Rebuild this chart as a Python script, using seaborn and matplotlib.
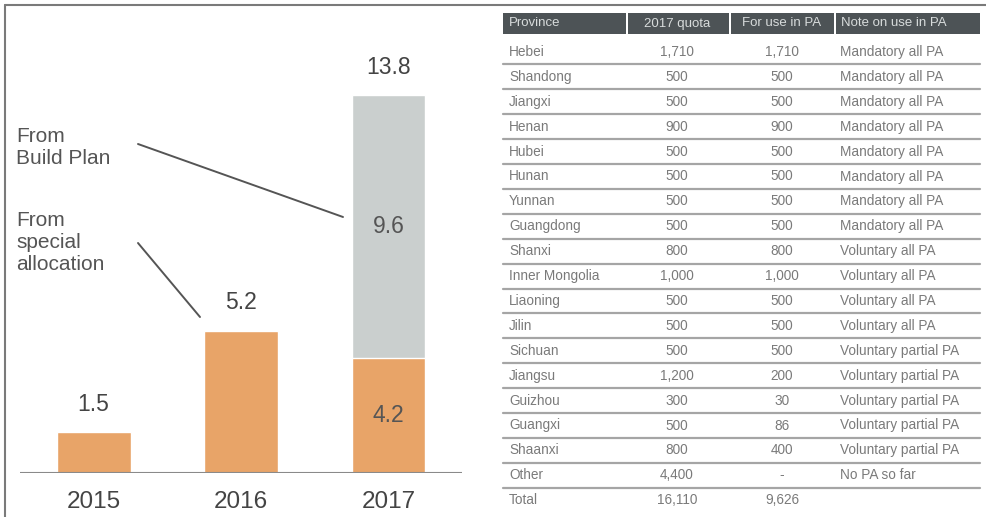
import matplotlib.pyplot as plt
import pandas as pd
import seaborn as sns

years = ["2015", "2016", "2017"]
special_allocation = [1.5, 5.2, 4.2]
build_plan = [0.0, 0.0, 9.6]

provinces = ["Hebei", "Shandong", "Jiangxi", "Henan", "Hubei", "Hunan", "Yunnan",
             "Guangdong", "Shanxi", "Inner Mongolia", "Liaoning", "Jilin", "Sichuan",
             "Jiangsu", "Guizhou", "Guangxi", "Shaanxi", "Other", "Total"]
quota_2017 = ["1,710", "500", "500", "900", "500", "500", "500", "500", "800", "1,000",
              "500", "500", "500", "1,200", "300", "500", "800", "4,400", "16,110"]
for_use_pa = ["1,710", "500", "500", "900", "500", "500", "500", "500", "800", "1,000",
              "500", "500", "500", "200", "30", "86", "400", "-", "9,626"]
pa_notes = ["Mandatory all PA"] * 8 + ["Voluntary all PA"] * 4 + \
           ["Voluntary partial PA"] * 5 + ["No PA so far", ""]
table_headers = ["Province", "2017 quota", "For use in PA", "Note on use in PA"]

ORANGE = "#E8A468"
GREY_BAR = "#CACFCE"
TEXT = "#444444"
FONT = "Liberation Sans"

sns.set_theme(style="white")
plt.rcParams["font.family"] = [FONT, "DejaVu Sans"]

df = pd.DataFrame({
    "year": years,
    "special": special_allocation,
    "build": build_plan,
})
df["total"] = df["special"] + df["build"]

fig = plt.figure(figsize=(9.86, 5.17), dpi=100)

# ---- bar chart ----
ax = fig.add_axes([20 / 986, 44 / 517, 442 / 986, 438 / 517])
sns.barplot(data=df, x="year", y="total", color=GREY_BAR, width=0.5,
            saturation=1, ax=ax, zorder=2)
sns.barplot(data=df, x="year", y="special", color=ORANGE, width=0.5,
            saturation=1, ax=ax, zorder=3)
ax.set_xlim(-0.5, 2.5)
ax.set_ylim(0, 16)
ax.set_xlabel("")
ax.set_ylabel("")
ax.set_yticks([])
ax.tick_params(axis="x", length=0, pad=13, labelsize=17.5, labelcolor=TEXT)
sns.despine(ax=ax, left=True, bottom=True)
ax.axhline(0, color="#8a8a8a", lw=1.5, zorder=4)

for i, row in df.iterrows():
    ax.text(i, row["total"] + 0.6, f"{row['total']:.1f}", ha="center", va="bottom",
            fontsize=16.5, color=TEXT)
    if row["build"] > 0:
        ax.text(i, row["special"] + row["build"] / 2, f"{row['build']:.1f}",
                ha="center", va="center", fontsize=16.5, color="#555555", zorder=5)
        ax.text(i, row["special"] / 2, f"{row['special']:.1f}",
                ha="center", va="center", fontsize=16.5, color="#555555", zorder=5)

# ---- overlay in pixel coordinates ----
ov = fig.add_axes([0, 0, 1, 1])
ov.set_xlim(0, 986)
ov.set_ylim(517, 0)
ov.axis("off")
ov.patch.set_alpha(0)

ov.plot([5, 986], [5, 5], color="#7a7a7a", lw=1.5)
ov.plot([5, 5], [5, 517], color="#7a7a7a", lw=1.5)

ov.text(16, 148, "From\nBuild Plan", ha="left", va="center", fontsize=15,
        color="#555555", linespacing=1.2)
ov.text(16, 242, "From\nspecial\nallocation", ha="left", va="center", fontsize=15,
        color="#555555", linespacing=1.2)
ov.plot([138, 343], [144, 217], color="#555555", lw=1.4)
ov.plot([138, 200], [243, 317], color="#555555", lw=1.4)

# ---- table ----
col_edges = [(503, 626), (628, 729), (731, 834), (836, 980)]
header_top, header_bot = 13, 34
for (x0, x1), head in zip(col_edges, table_headers):
    ov.add_patch(plt.Rectangle((x0, header_top), x1 - x0, header_bot - header_top,
                               color="#4d5356", lw=0))
header_y = (header_top + header_bot) / 2
hdr_kw = dict(va="center", fontsize=9.5, color="#d8dcdc")
ov.text(509, header_y, table_headers[0], ha="left", **hdr_kw)
ov.text(677, header_y, table_headers[1], ha="center", **hdr_kw)
ov.text(782, header_y, table_headers[2], ha="center", **hdr_kw)
ov.text(841, header_y, table_headers[3], ha="left", **hdr_kw)

row_h = 24.9
first_row = 52
cell_kw = dict(va="center", fontsize=9.8, color="#7a7a7a")
for i in range(len(provinces)):
    y = first_row + i * row_h
    ov.text(509, y, provinces[i], ha="left", **cell_kw)
    ov.text(677, y, quota_2017[i], ha="center", **cell_kw)
    ov.text(782, y, for_use_pa[i], ha="center", **cell_kw)
    ov.text(840, y, pa_notes[i], ha="left", **cell_kw)
    if i < len(provinces) - 1:
        ov.plot([503, 980], [y + row_h / 2, y + row_h / 2], color="#a5a5a5", lw=1.6)

fig.savefig("out.png", dpi=100)
plt.close(fig)
